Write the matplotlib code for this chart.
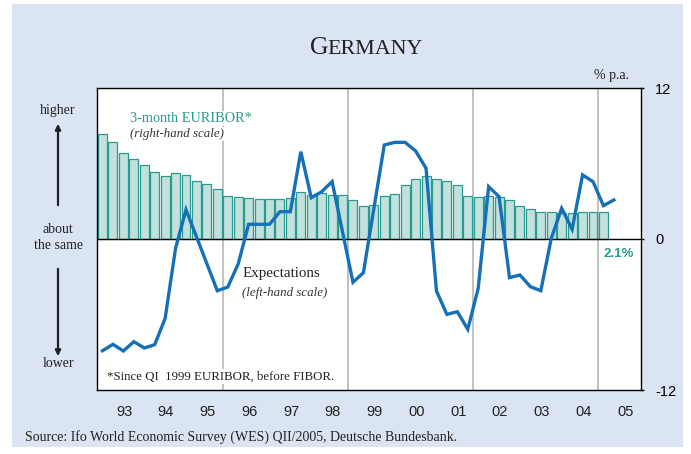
import matplotlib.pyplot as plt
import numpy as np
from matplotlib.patches import Rectangle, FancyArrowPatch

# quarterly data, 1993 Q1 ...
euribor = [8.32, 7.68, 6.81, 6.33,
           5.88, 5.30, 5.03, 5.27,
           5.11, 4.59, 4.40, 4.00,
           3.44, 3.31, 3.23, 3.18,
           3.20, 3.17, 3.23, 3.71,
           3.52, 3.63, 3.52, 3.52,
           3.07, 2.65, 2.70, 3.44,
           3.55, 4.28, 4.74, 5.03,
           4.74, 4.60, 4.28, 3.44,
           3.35, 3.44, 3.35, 3.10,
           2.66, 2.36, 2.13, 2.13,
           2.08, 2.08, 2.13, 2.15,
           2.14]  # 1993Q1 - 2005Q1

expectations = [-8.88, -8.37, -8.90, -8.16,
                -8.66, -8.40, -6.31, -0.74,
                2.33, 0.18, -1.96, -4.11,
                -3.82, -1.99, 1.17, 1.17,
                1.17, 2.17, 2.17, 6.94,
                3.28, 3.76, 4.56, 0.56,
                -3.44, -2.68, 2.41, 7.47,
                7.68, 7.68, 7.00, 5.62,
                -4.13, -5.99, -5.78, -7.18,
                -3.92, 4.16, 3.36, -3.07,
                -2.86, -3.79, -4.11, 0.05,
                2.44, 0.77, 5.09, 4.56,
                2.65, 3.10]  # 1993Q1 - 2005Q2

years = list(range(1993, 2006))
year_labels = ['93', '94', '95', '96', '97', '98', '99', '00', '01', '02', '03', '04', '05']
right_ticks = [12, 0, -12]
right_tick_labels = ['12', '0', '-12']

W, H = 691, 454
serif = 'Liberation Serif'
sans = 'Liberation Sans'
teal = '#2a9a90'
blue = '#1670b8'

def fx(x):
    return x / W

def fy(y):
    return 1 - y / H

fig = plt.figure(figsize=(W / 100, H / 100), dpi=100)
fig.patch.set_facecolor('white')
fig.patches.append(Rectangle((fx(12), fy(447)), fx(683) - fx(12), fy(4) - fy(447),
                             transform=fig.transFigure, facecolor='#dae4f3',
                             edgecolor='none', zorder=-10))

ax = fig.add_axes([fx(97), fy(390), fx(641) - fx(97), fy(88) - fy(390)])
ax.set_facecolor('white')

t_bar = 1993 + np.arange(len(euribor)) / 4
t_line = 1993 + np.arange(len(expectations)) / 4

for v in [1995.875, 1998.875, 2001.875, 2004.875]:
    ax.axvline(v, color='#b0b0b0', lw=1.1, zorder=1)

ax.bar(t_bar, euribor, width=0.215, color='#c2e1dd', edgecolor=teal, linewidth=0.9, zorder=2)
ax.axhline(0, color='black', lw=1, zorder=3)
ax.plot(t_line, expectations, color=blue, lw=2.4, zorder=5, solid_joinstyle='miter')

ax.set_xlim(1992.868, 2005.90)
ax.set_ylim(-12, 12)
ax.set_xticks([])
ax.yaxis.tick_right()
ax.set_yticks(right_ticks)
ax.set_yticklabels(right_tick_labels, fontfamily=sans, fontsize=10.5)
ax.tick_params(axis='y', length=2, width=1, pad=8)
for s in ax.spines.values():
    s.set_color('black')
    s.set_linewidth(1)

# year labels under the axis
for yr, lab in zip(years, year_labels):
    ax.text(yr + 0.52, -13.2, lab, ha='center', va='top', fontfamily=sans,
            fontsize=10.5, color='#222222', clip_on=False)

box = dict(facecolor='white', edgecolor='none', pad=1)
ax.text(1993.66, 9.3, '3-month EURIBOR*', color=teal, fontfamily=serif, fontsize=10.3,
        va='baseline', bbox=box, zorder=4)
ax.text(1993.66, 8.1, '(right-hand scale)', color='#333333', fontfamily=serif, style='italic',
        fontsize=9.3, va='baseline', bbox=box, zorder=4)
ax.text(1996.35, -3.05, 'Expectations', color='#222222', fontfamily=serif, fontsize=10.8,
        va='baseline', zorder=4)
ax.text(1996.35, -4.55, '(left-hand scale)', color='#333333', fontfamily=serif, style='italic',
        fontsize=9.3, va='baseline', zorder=4)
ax.text(1993.1, -11.15, '*Since QI  1999 EURIBOR, before FIBOR.', color='#222222',
        fontfamily=serif, fontsize=9.3, va='baseline', bbox=box, zorder=4)
ax.text(2005.0, -1.45, '2.1%', color=teal, fontfamily=sans, fontweight='bold',
        fontsize=9.5, va='baseline', zorder=4)

# title in small caps
fig.text(fx(310), fy(54), 'G', fontfamily=serif, fontsize=18.5, color='#222222', va='baseline')
fig.text(fx(327.5), fy(54), 'ERMANY', fontfamily=serif, fontsize=15.8, color='#222222', va='baseline')
fig.text(fx(594), fy(79), '% p.a.', fontfamily=serif, fontsize=10, color='#222222', va='baseline')

# left-hand scale description
for txt, y in [('higher', 114), ('about', 233), ('the same', 249), ('lower', 367)]:
    fig.text(fx(58), fy(y), txt, fontfamily=serif, fontsize=10, color='#222222',
             ha='center', va='baseline')
for y0, y1 in [(208, 121), (266, 359)]:
    fig.patches.append(FancyArrowPatch((fx(58), fy(y0)), (fx(58), fy(y1)),
                                       transform=fig.transFigure, arrowstyle='-|>',
                                       mutation_scale=8, lw=1.6, color='#222222'))

fig.text(fx(25), fy(441), 'Source: Ifo World Economic Survey (WES) QII/2005, Deutsche Bundesbank.',
         fontfamily=serif, fontsize=10, color='#222222', va='baseline')

fig.savefig('out.png', dpi=100)
